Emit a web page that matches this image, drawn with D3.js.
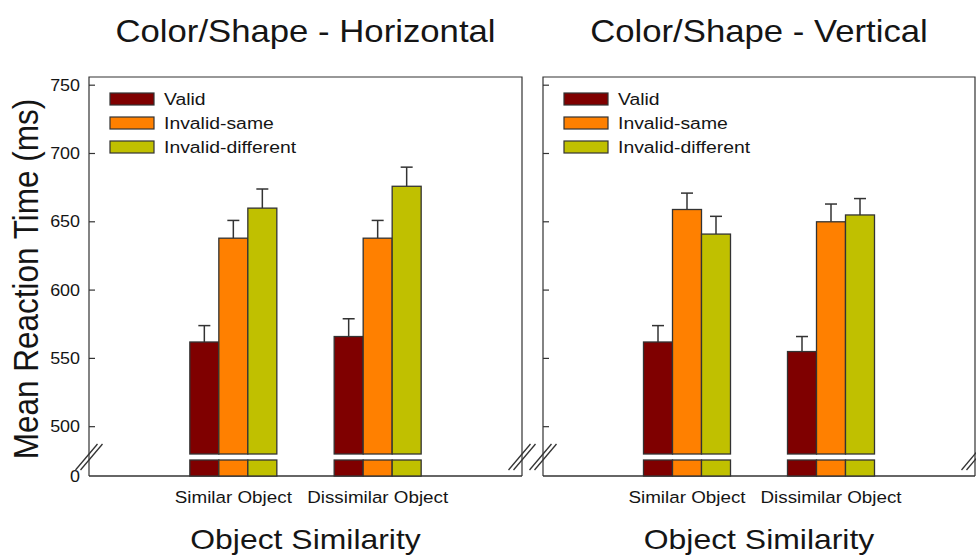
<!DOCTYPE html>
<html><head><meta charset="utf-8">
<script src="https://cdn.jsdelivr.net/npm/d3@7"></script>
<style>body{margin:0;background:#fff;}svg{display:block;font-family:"Liberation Sans",Arial,sans-serif;}</style>
</head><body>
<svg id="c" width="976" height="555"></svg>
<script>
const categories = ["Similar Object", "Dissimilar Object"];
const series = ["Valid", "Invalid-same", "Invalid-different"];
const colors = ["#7f0000", "#ff8000", "#c0c000"];
const panelTitles = ["Color/Shape - Horizontal", "Color/Shape - Vertical"];
// means [category][series]
const horizMeans = [[562, 638, 660], [566, 638, 676]];
const horizErr   = [[12, 13, 14], [13, 13, 14]];
const vertMeans  = [[562, 659, 641], [555, 650, 655]];
const vertErr    = [[12, 12, 13], [11, 13, 12]];
const yTicks = [500, 550, 600, 650, 700, 750];
const yLabel = "Mean Reaction Time (ms)";
const xLabel = "Object Similarity";

const svg = d3.select("#c");
const plotTop = 77, upperBottom = 454, lowerTop = 460, plotBottom = 476;
const y = d3.scaleLinear().domain([480, 756]).range([upperBottom, plotTop]);
const stroke = "#333";
const SX = 1.12; // horizontal stretch of text in the reference

function txt(g, x, yy, size, str, anchor, dy) {
  return g.append("text")
    .attr("transform", `translate(${x},${yy}) scale(${SX},1)`)
    .attr("text-anchor", anchor || "start")
    .attr("dy", dy || 0)
    .attr("font-size", size).attr("fill", "#151515").text(str);
}

const panels = [
  {x0: 89, x1: 522, means: horizMeans, err: horizErr, title: panelTitles[0], labels: true},
  {x0: 543, x1: 975, means: vertMeans, err: vertErr, title: panelTitles[1], labels: false}
];

function breakMark(g, cx, cy) {
  [-2.5, 2.5].forEach(off => {
    g.append("line").attr("x1", cx - 11 + off).attr("y1", cy + 13)
      .attr("x2", cx + 11 + off).attr("y2", cy - 13)
      .attr("stroke", stroke).attr("stroke-width", 1.3);
  });
}

panels.forEach(p => {
  const g = svg.append("g");
  const x = d3.scaleLinear().domain([0, 3]).range([p.x0, p.x1]);
  const xs = d3.scaleBand().domain(series).range([-43.5, 43.5]).padding(0);

  txt(g, (p.x0 + p.x1) / 2, 42, 31, p.title, "middle");

  g.append("path").attr("d", `M${p.x0},${plotBottom}V${plotTop}H${p.x1}V${plotBottom}`)
    .attr("fill", "none").attr("stroke", stroke).attr("stroke-width", 1.2);
  g.append("line").attr("x1", p.x0).attr("x2", p.x1).attr("y1", plotBottom).attr("y2", plotBottom)
    .attr("stroke", stroke).attr("stroke-width", 1.4);

  g.selectAll(".yt").data(yTicks).join("line")
    .attr("x1", p.x0).attr("x2", p.x0 + 6).attr("y1", d => y(d)).attr("y2", d => y(d))
    .attr("stroke", stroke).attr("stroke-width", 1.2);
  if (p.labels) {
    yTicks.forEach(t => txt(g, p.x0 - 9, y(t), 16, t, "end", "0.35em"));
    txt(g, p.x0 - 9, plotBottom, 16, "0", "end", "0.35em");
  }

  categories.forEach((c, ci) => {
    const cx = x(ci + 1);
    series.forEach((s, si) => {
      const v = p.means[ci][si];
      const bx = cx + xs(s);
      const bw = xs.bandwidth();
      const e = v + p.err[ci][si];
      g.append("line").attr("x1", bx + bw / 2).attr("x2", bx + bw / 2)
        .attr("y1", y(v)).attr("y2", y(e))
        .attr("stroke", stroke).attr("stroke-width", 1.5);
      g.append("line").attr("x1", bx + bw / 2 - 6).attr("x2", bx + bw / 2 + 6)
        .attr("y1", y(e)).attr("y2", y(e))
        .attr("stroke", stroke).attr("stroke-width", 1.5);
      g.append("rect").attr("x", bx).attr("y", y(v)).attr("width", bw)
        .attr("height", upperBottom - y(v)).attr("fill", colors[si])
        .attr("stroke", stroke).attr("stroke-width", 1.3);
      g.append("rect").attr("x", bx).attr("y", lowerTop).attr("width", bw)
        .attr("height", plotBottom - lowerTop).attr("fill", colors[si])
        .attr("stroke", stroke).attr("stroke-width", 1.3);
    });
    txt(g, cx, 503, 16.8, c, "middle");
  });

  series.forEach((s, si) => {
    const ly = 93 + si * 24;
    g.append("rect").attr("x", p.x0 + 21).attr("y", ly).attr("width", 44).attr("height", 12)
      .attr("fill", colors[si]).attr("stroke", stroke).attr("stroke-width", 1.2);
    txt(g, p.x0 + 75, ly + 6, 17.3, s, "start", "0.35em");
  });

  txt(g, (p.x0 + p.x1) / 2, 549, 28.5, xLabel, "middle");

  breakMark(g, p.x0, 457);
  breakMark(g, p.x1, 457);
});

svg.append("text").attr("transform", "translate(38,279) rotate(-90) scale(1,1.1)")
  .attr("text-anchor", "middle").attr("font-size", 31.5).attr("fill", "#151515").text(yLabel);
</script>
</body></html>
